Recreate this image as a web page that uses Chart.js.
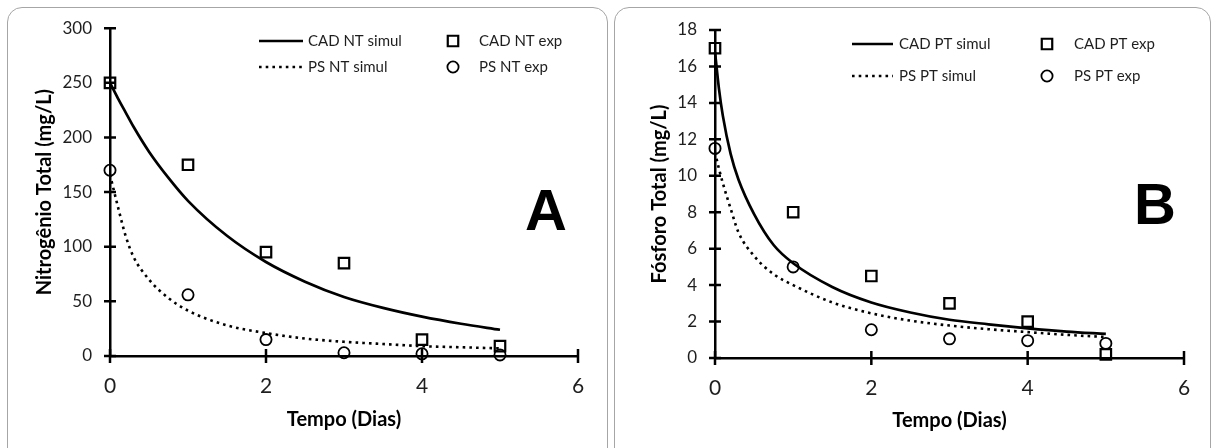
<!DOCTYPE html>
<html>
<head>
<meta charset="utf-8">
<script src="https://cdn.jsdelivr.net/npm/chart.js@4.4.1/dist/chart.umd.min.js"></script>
<style>
html, body { margin: 0; padding: 0; background: #fff; overflow: hidden; }
body { width: 1213px; height: 448px; position: relative; }
.panel { position: absolute; top: 7px; height: 470px; border: 1.5px solid #a6a6a6; border-radius: 15px; box-sizing: border-box; }
#pa { left: 7px; width: 601px; }
#pb { left: 614px; width: 597px; }
.wrap { position: absolute; top: 0; width: 606px; height: 448px; }
#wa { left: 0; }
#wb { left: 607px; }
</style>
</head>
<body>
<div class="panel" id="pa"></div>
<div class="panel" id="pb"></div>
<div class="wrap" id="wa"><canvas id="chartA"></canvas></div>
<div class="wrap" id="wb"><canvas id="chartB"></canvas></div>
<script>
// tempo (dias) dos pontos experimentais
const expDays = [0, 1, 2, 3, 4, 5];

// painel A - nitrogenio total
const cadNtExp = [250, 175, 95, 85, 15, 9];
const psNtExp = [170, 56, 15, 3, 2, 1];
const simDaysA = [0, 0.1, 0.2, 0.3, 0.5, 0.75, 1, 1.5, 2, 2.5, 3, 3.5, 4, 4.5, 5];
const cadNtSim = [250, 236, 223, 210, 187, 163, 142, 110, 86, 68, 54, 44, 36, 29.5, 24];
const psNtSim = [166, 137, 110, 91, 70, 53, 41.5, 28, 21, 16, 13, 11, 9, 8, 7];

// painel B - fosforo total
const cadPtExp = [17, 8, 4.5, 3, 2, 0.2];
const psPtExp = [11.5, 5, 1.55, 1.05, 0.95, 0.8];
const simDaysB = [0, 0.05, 0.1, 0.2, 0.3, 0.5, 0.75, 1, 1.5, 2, 2.5, 3, 3.5, 4, 4.5, 5];
const cadPtSim = [16.8, 14.8, 13.3, 11.2, 9.8, 7.9, 6.2, 5.2, 3.9, 3.05, 2.5, 2.1, 1.85, 1.63, 1.45, 1.32];
const psPtSim = [11.3, 10.4, 9.6, 8.2, 6.9, 5.6, 4.6, 4.0, 3.05, 2.45, 2.05, 1.78, 1.58, 1.42, 1.27, 1.15];

const xTicks = [0, 2, 4, 6];

const pts = (xs, ys) => xs.map((x, i) => ({x: x, y: ys[i]}));
const ink = '#1e1e1e';

// ticks cruzando os eixos, como no excel
const crossTicks = {
    id: 'crossTicks',
    beforeDatasetsDraw(chart) {
        const {ctx, chartArea, scales} = chart;
        ctx.save();
        ctx.strokeStyle = '#000';
        ctx.lineWidth = 2.5;
        ctx.beginPath();
        scales.x.ticks.forEach(t => {
            const px = scales.x.getPixelForValue(t.value);
            ctx.moveTo(px, chartArea.bottom - 7);
            ctx.lineTo(px, chartArea.bottom + 7);
        });
        scales.y.ticks.forEach(t => {
            const py = scales.y.getPixelForValue(t.value);
            ctx.moveTo(chartArea.left - 6, py);
            ctx.lineTo(chartArea.left + 6, py);
        });
        ctx.stroke();
        ctx.restore();
    }
};

// legenda 2x2 e a letra do painel
const panelLegend = {
    id: 'panelLegend',
    afterDraw(chart, args, o) {
        const ctx = chart.ctx;
        const ds = chart.data.datasets;
        ctx.save();
        ctx.font = '15px Lato';
        ctx.fillStyle = ink;
        ctx.textBaseline = 'middle';
        [0, 1].forEach(r => {
            const line = ds[r], mark = ds[r + 2], y = o.rows[r];
            ctx.strokeStyle = '#000';
            ctx.lineWidth = line.borderWidth;
            ctx.setLineDash(line.borderDash || []);
            ctx.beginPath();
            ctx.moveTo(o.lineX[0], y);
            ctx.lineTo(o.lineX[1], y);
            ctx.stroke();
            ctx.setLineDash([]);
            ctx.fillText(line.label, o.textX, y);
            ctx.lineWidth = mark.borderWidth;
            ctx.fillStyle = 'rgba(0,0,0,0)';
            Chart.helpers.drawPoint(ctx, {pointStyle: mark.pointStyle, radius: mark.pointRadius, rotation: 0, borderWidth: mark.borderWidth}, o.markX, y);
            ctx.fillStyle = ink;
            ctx.fillText(mark.label, o.markTextX, y);
        });
        ctx.font = 'bold 58px "Liberation Sans"';
        ctx.fillStyle = '#000';
        ctx.textAlign = 'center';
        ctx.textBaseline = 'alphabetic';
        ctx.fillText(o.letter, o.letterX, o.letterY);
        ctx.restore();
    }
};

function makePanel(id, p) {
    return new Chart(document.getElementById(id), {
        type: 'scatter',
        data: {
            datasets: [
                {label: p.names[0], data: pts(p.simX, p.sim1), showLine: true, pointRadius: 0, borderColor: '#000', borderWidth: 2.7, cubicInterpolationMode: 'monotone', clip: false},
                {label: p.names[1], data: pts(p.simX, p.sim2), showLine: true, pointRadius: 0, borderColor: '#000', borderWidth: 2.6, borderDash: [2.6, 4.1], cubicInterpolationMode: 'monotone', clip: false},
                {label: p.names[2], data: pts(expDays, p.exp1), pointStyle: 'rect', pointRadius: 7.4, borderWidth: 2.2, borderColor: '#000', backgroundColor: 'rgba(0,0,0,0)', clip: false},
                {label: p.names[3], data: pts(expDays, p.exp2), pointStyle: 'circle', pointRadius: 5.6, borderWidth: 1.8, borderColor: '#000', backgroundColor: 'rgba(0,0,0,0)', clip: false}
            ]
        },
        options: {
            responsive: true,
            maintainAspectRatio: false,
            animation: false,
            devicePixelRatio: 1,
            layout: {padding: {top: p.top, right: p.right, left: 0, bottom: 0}},
            plugins: {
                legend: {display: false},
                tooltip: {enabled: false},
                panelLegend: p.legend
            },
            scales: {
                x: {
                    type: 'linear', min: 0, max: 6,
                    afterBuildTicks: s => { s.ticks = xTicks.map(v => ({value: v})); },
                    afterFit: s => { s.height = p.xH; },
                    grid: {display: false, drawTicks: false},
                    border: {color: '#000', width: 2.5},
                    ticks: {color: ink, font: {family: 'Lato', size: 21}, padding: 18},
                    title: {display: true, text: 'Tempo (Dias)', color: '#000', font: {family: 'Lato', size: 20, weight: 'bold'}, padding: {top: 0, bottom: p.xTitlePad}}
                },
                y: {
                    min: 0, max: p.yMax,
                    ticks: {stepSize: p.yStep, color: ink, font: {family: 'Lato', size: 17}, padding: 18},
                    afterFit: s => { s.width = p.yW; },
                    grid: {display: false, drawTicks: false},
                    border: {color: '#000', width: 2.5},
                    title: {display: true, text: p.yTitle, color: '#000', font: {family: 'Lato', size: 20, weight: 'bold'}, padding: {top: p.yTitlePad, bottom: 0}}
                }
            }
        },
        plugins: [crossTicks, panelLegend]
    });
}

function drawAll() {
    makePanel('chartA', {
        names: ['CAD NT simul', 'PS NT simul', 'CAD NT exp', 'PS NT exp'],
        simX: simDaysA, sim1: cadNtSim, sim2: psNtSim, exp1: cadNtExp, exp2: psNtExp,
        yMax: 300, yStep: 50, yTitle: 'Nitrogênio Total (mg/L)',
        top: 28, right: 28, yW: 110, xH: 92, xTitlePad: 16, yTitlePad: 33,
        legend: {rows: [41, 67], lineX: [259, 303], textX: 308, markX: 453, markTextX: 479, letter: 'A', letterX: 546, letterY: 230}
    });
    makePanel('chartB', {
        names: ['CAD PT simul', 'PS PT simul', 'CAD PT exp', 'PS PT exp'],
        simX: simDaysB, sim1: cadPtSim, sim2: psPtSim, exp1: cadPtExp, exp2: psPtExp,
        yMax: 18, yStep: 2, yTitle: 'Fósforo Total (mg/L)',
        top: 30, right: 29, yW: 108, xH: 90, xTitlePad: 15, yTitlePad: 41,
        legend: {rows: [44, 76], lineX: [245, 286], textX: 292, markX: 440, markTextX: 467, letter: 'B', letterX: 548, letterY: 224}
    });
}

Promise.all([
    document.fonts.load('16px Lato'),
    document.fonts.load('bold 20px Lato'),
    document.fonts.load('bold 58px "Liberation Sans"')
]).then(drawAll, drawAll);
</script>
</body>
</html>
